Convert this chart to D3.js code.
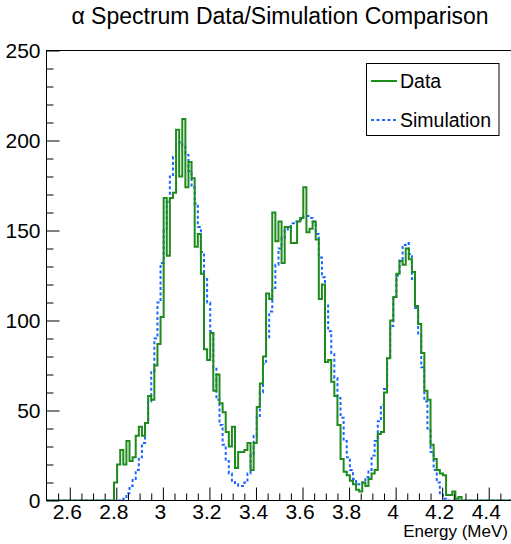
<!DOCTYPE html>
<html>
<head>
<meta charset="utf-8">
<script src="https://cdn.jsdelivr.net/npm/d3@7"></script>
<style>
  body { margin: 0; background: #fff; }
  text { font-family: "Liberation Sans", Arial, sans-serif; fill: #000; }
</style>
</head>
<body>
<div class="container"></div>
<script>
// histogram binning (MeV)
var binLow = 2.79;
var binWidth = 2 / 150;

// measured alpha spectrum, counts per bin
var dataCounts = [10, 20, 28, 20, 33, 22, 24, 36, 41, 36,
    43, 58, 56, 75, 87, 102, 168, 136, 168, 171,
    206, 180, 212, 174, 188, 179, 141, 148, 126, 84,
    78, 93, 61, 70, 54, 49, 38, 30, 41, 18,
    27, 27, 28, 32, 17, 32, 52, 65, 80, 115,
    112, 160, 144, 155, 132, 152, 152, 143, 143, 155,
    157, 174, 149, 151, 155, 145, 112, 120, 77, 78,
    66, 58, 42, 23, 16, 14, 11, 9, 6, 5,
    10, 8, 12, 15, 17, 37, 38, 60, 79, 100,
    113, 126, 133, 131, 140, 134, 127, 108, 98, 82,
    61, 56, 31, 23, 17, 15, 14, 3, 3, 5,
    1, 2];

// simulated spectrum, counts per bin
var simCounts = [0, 0, 0, 1, 4, 8, 12, 17, 24, 32,
    43, 55, 72, 90, 110, 132, 150, 166, 180, 191,
    198, 199, 197, 192, 183, 174, 165, 152, 138, 124,
    110, 94, 74, 56, 42, 31, 22, 15, 11, 9,
    8, 8, 10, 15, 26, 36, 47, 60, 76, 90,
    105, 118, 131, 140, 146, 150, 152, 154, 155, 155,
    156, 158, 158, 157, 155, 148, 135, 124, 109, 94,
    82, 68, 57, 46, 33, 24, 17, 12, 9, 9,
    10, 13, 17, 25, 33, 44, 53, 62, 79, 97,
    113, 125, 134, 142, 143, 137, 123, 107, 92, 74,
    55, 40, 27, 17, 10, 4, 1, 0, 0, 0,
    0, 0];

var xMajor = [2.6, 2.8, 3.0, 3.2, 3.4, 3.6, 3.8, 4.0, 4.2, 4.4];
var yMajor = [0, 50, 100, 150, 200, 250];
var legendLabels = ['Data', 'Simulation'];

const WIDTH = 511;
const HEIGHT = 544;
const LEFT = 46.5, RIGHT = 512, TOP = 50.5, BOTTOM = 500.5;

var xScale = d3.scaleLinear().domain([2.5, 4.5]).range([LEFT, RIGHT]);
var yScale = d3.scaleLinear().domain([0, 250]).range([BOTTOM, TOP]);

var histPoints = function (counts) {
    var pts = [{x: 2.5, y: 0}];
    counts.forEach(function (c, i) {
        pts.push({x: binLow + i * binWidth, y: c});
    });
    pts.push({x: binLow + counts.length * binWidth, y: 0});
    pts.push({x: 4.5, y: 0});
    return pts;
};

var stepLine = d3.line()
    .x(function (d) { return xScale(d.x); })
    .y(function (d) { return yScale(d.y); })
    .curve(d3.curveStepAfter);

var range = function (lo, hi, step) {
    var out = [];
    for (var v = lo; v <= hi + 1e-9; v += step) out.push(+v.toFixed(4));
    return out;
};

var visualize = function () {
    var svg = d3.select('.container').append('svg')
        .attr('width', WIDTH)
        .attr('height', HEIGHT);

    svg.append('rect').attr('width', WIDTH).attr('height', HEIGHT).attr('fill', '#fff');

    svg.append('text')
        .attr('x', 280).attr('y', 24)
        .attr('text-anchor', 'middle')
        .style('font-size', '23px')
        .text('\u03b1 Spectrum Data/Simulation Comparison');

    svg.append('clipPath').attr('id', 'plot')
        .append('rect')
        .attr('x', LEFT).attr('y', TOP - 2)
        .attr('width', RIGHT - LEFT).attr('height', BOTTOM - TOP + 2);

    var plot = svg.append('g').attr('clip-path', 'url(#plot)');

    plot.append('path')
        .datum(histPoints(simCounts))
        .attr('d', stepLine)
        .attr('fill', 'none')
        .attr('stroke', '#1a66ff')
        .attr('stroke-width', 2)
        .attr('stroke-dasharray', '3,2.5');

    plot.append('path')
        .datum(histPoints(dataCounts))
        .attr('d', stepLine)
        .attr('fill', 'none')
        .attr('stroke', '#1d8c1d')
        .attr('stroke-width', 2);

    // x axis, ticks pointing inwards
    var xMinor = range(2.55, 4.45, 0.05).filter(function (v) {
        return xMajor.indexOf(v) < 0;
    });
    svg.append('g')
        .attr('transform', 'translate(0,' + BOTTOM + ')')
        .call(d3.axisBottom(xScale).tickValues(xMinor).tickSize(-7).tickFormat(''))
        .call(function (g) { g.select('.domain').remove(); });
    var xAxis = svg.append('g')
        .attr('transform', 'translate(0,' + BOTTOM + ')')
        .call(d3.axisBottom(xScale).tickValues(xMajor).tickSize(-13).tickPadding(4)
            .tickFormat(d3.format('~g')));
    xAxis.select('.domain').remove();
    xAxis.selectAll('text')
        .attr('x', -3)
        .style('font-size', '21px').attr('font-family', null);

    // y axis
    var yMinor = range(0, 250, 10).filter(function (v) { return v % 50 !== 0; });
    svg.append('g')
        .attr('transform', 'translate(' + LEFT + ',0)')
        .call(d3.axisLeft(yScale).tickValues(yMinor).tickSize(-7).tickFormat(''))
        .call(function (g) { g.select('.domain').remove(); });
    var yAxis = svg.append('g')
        .attr('transform', 'translate(' + LEFT + ',0)')
        .call(d3.axisLeft(yScale).tickValues(yMajor).tickSize(-13).tickPadding(6));
    yAxis.select('.domain').remove();
    yAxis.selectAll('text').style('font-size', '21px').attr('font-family', null);

    svg.selectAll('.tick line').attr('stroke', '#000');

    // frame
    svg.append('rect')
        .attr('x', LEFT).attr('y', TOP)
        .attr('width', RIGHT - LEFT).attr('height', BOTTOM - TOP)
        .attr('fill', 'none').attr('stroke', '#000');

    svg.append('text')
        .attr('x', 508).attr('y', 537)
        .attr('text-anchor', 'end')
        .style('font-size', '17px')
        .text('Energy (MeV)');

    // legend
    var legend = svg.append('g');
    legend.append('rect')
        .attr('x', 366.5).attr('y', 63.5)
        .attr('width', 132.5).attr('height', 72)
        .attr('fill', '#fff').attr('stroke', '#000');
    var styles = [{color: '#1d8c1d', dash: null}, {color: '#1a66ff', dash: '3,2.5'}];
    legendLabels.forEach(function (label, i) {
        var cy = 81 + i * 39;
        legend.append('line')
            .attr('x1', 371).attr('x2', 397)
            .attr('y1', cy).attr('y2', cy)
            .attr('stroke', styles[i].color)
            .attr('stroke-width', 2)
            .attr('stroke-dasharray', styles[i].dash);
        legend.append('text')
            .attr('x', 400).attr('y', cy + 7)
            .style('font-size', '19.5px')
            .text(label);
    });
};

window.onload = visualize;
</script>
</body>
</html>
